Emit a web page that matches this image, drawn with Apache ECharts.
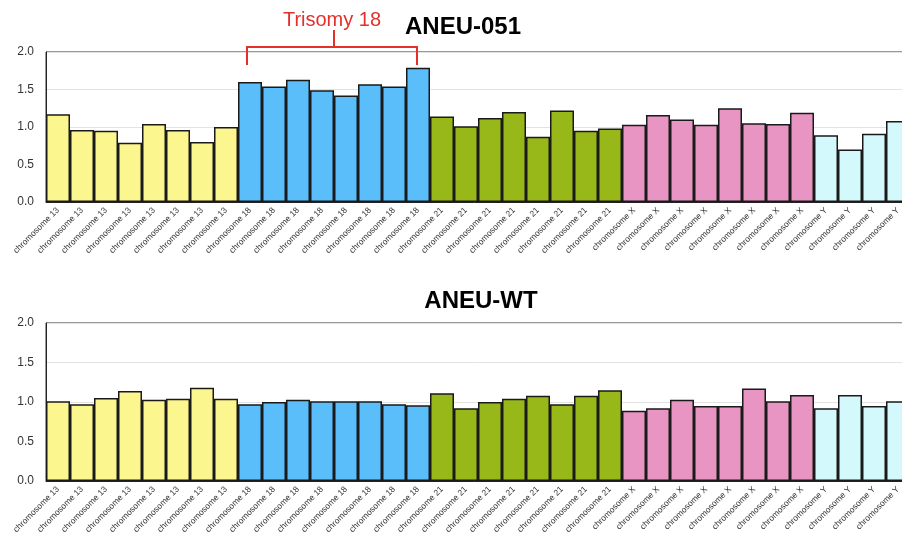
<!DOCTYPE html>
<html>
<head>
<meta charset="utf-8">
<script src="https://cdn.jsdelivr.net/npm/echarts@6/dist/echarts.min.js"></script>
<style>
  html, body { margin: 0; padding: 0; background: #fff; }
  #main { width: 902px; height: 538px; }
</style>
</head>
<body>
<div id="main"></div>
<script>
var chromosomes = ['13', '18', '21', 'X', 'Y'];
var chrCounts = [8, 8, 8, 8, 4];
var chrColors = ['#fcf68e', '#59befa', '#98b718', '#e895c3', '#d4f9fc'];

var aneu051 = [
  1.17, 0.96, 0.95, 0.79, 1.04, 0.96, 0.80, 1.00,
  1.60, 1.54, 1.63, 1.49, 1.42, 1.57, 1.54, 1.79,
  1.14, 1.01, 1.12, 1.20, 0.87, 1.22, 0.95, 0.98,
  1.03, 1.16, 1.10, 1.03, 1.25, 1.05, 1.04, 1.19,
  0.89, 0.70, 0.91, 1.08
];
var aneuWT = [
  1.01, 0.97, 1.05, 1.14, 1.03, 1.04, 1.18, 1.04,
  0.97, 1.00, 1.03, 1.01, 1.01, 1.01, 0.97, 0.96,
  1.11, 0.92, 1.00, 1.04, 1.08, 0.97, 1.08, 1.15,
  0.89, 0.92, 1.03, 0.95, 0.95, 1.17, 1.01, 1.09,
  0.92, 1.09, 0.95, 1.01
];
var yTicks = [0, 0.5, 1.0, 1.5, 2.0];

// category labels + colour per bar
var categories = [];
var barColors = [];
chromosomes.forEach(function (c, i) {
  for (var k = 0; k < chrCounts[i]; k++) {
    categories.push('chromosome ' + c);
    barColors.push(chrColors[i]);
  }
});

var chart = echarts.init(document.getElementById('main'), null, { renderer: 'canvas' });

function makeX(gridIndex) {
  return {
    type: 'category',
    gridIndex: gridIndex,
    data: categories,
    axisLine: { lineStyle: { color: '#222', width: 1 } },
    axisTick: { show: false },
    axisLabel: {
      interval: 0,
      rotate: 45,
      fontSize: 8.5,
      color: '#333',
      margin: 7,
      fontFamily: 'Liberation Sans'
    }
  };
}

function makeY(gridIndex) {
  return {
    type: 'value',
    gridIndex: gridIndex,
    min: yTicks[0],
    max: yTicks[yTicks.length - 1],
    interval: 0.5,
    axisLine: { show: true, lineStyle: { color: '#222', width: 1 } },
    axisTick: { show: false },
    axisLabel: {
      fontSize: 12,
      color: '#333',
      margin: 12,
      fontFamily: 'Liberation Sans',
      formatter: function (v) { return v.toFixed(1); }
    },
    splitLine: { show: true, lineStyle: { color: '#e2e2e2', width: 1 } }
  };
}

function makeBars(idx, values) {
  return {
    type: 'bar',
    xAxisIndex: idx,
    yAxisIndex: idx,
    barCategoryGap: '0%',
    data: values.map(function (v, i) {
      return { value: v, itemStyle: { color: barColors[i] } };
    }),
    itemStyle: { borderColor: '#1a1a1a', borderWidth: 1.5 },
    silent: true
  };
}

// plot runs past the right edge of the picture (last bar is cut off)
var gridBase = { left: 46, width: 864, outerBoundsMode: 'none', containLabel: false,
  show: true, borderColor: '#333', borderWidth: 1 };

var option = {
  animation: false,
  backgroundColor: '#fff',
  title: [
    {
      text: 'ANEU-051', left: 458, top: 10, textAlign: 'center',
      textStyle: { fontSize: 24, fontWeight: 'bold', color: '#000', fontFamily: 'Liberation Sans' }
    },
    {
      text: 'ANEU-WT', left: 476, top: 284, textAlign: 'center',
      textStyle: { fontSize: 24, fontWeight: 'bold', color: '#000', fontFamily: 'Liberation Sans' }
    }
  ],
  grid: [
    Object.assign({ top: 52, height: 150 }, gridBase),
    Object.assign({ top: 323, height: 158 }, gridBase)
  ],
  xAxis: [makeX(0), makeX(1)],
  yAxis: [makeY(0), makeY(1)],
  series: [makeBars(0, aneu051), makeBars(1, aneuWT)]
};

chart.setOption(option);

// "Trisomy 18" bracket over the chromosome 18 bars
var first18 = chrCounts[0];
var last18 = chrCounts[0] + chrCounts[1] - 1;
var xa = chart.convertToPixel({ gridIndex: 0 }, [first18, 0])[0];
var xb = chart.convertToPixel({ gridIndex: 0 }, [last18, 0])[0];
var xm = (xa + xb) / 2;
var red = '#e3302b';

chart.setOption({
  graphic: [
    {
      type: 'polyline',
      shape: { points: [[xa - 3, 65], [xa - 3, 47], [xb - 1, 47], [xb - 1, 65]] },
      style: { stroke: red, lineWidth: 2, fill: null }
    },
    {
      type: 'line',
      shape: { x1: xm, y1: 30, x2: xm, y2: 47 },
      style: { stroke: red, lineWidth: 2 }
    },
    {
      type: 'text',
      x: xm - 2, y: 20,
      style: {
        text: 'Trisomy 18', fill: red, fontSize: 20,
        fontFamily: 'Liberation Sans', align: 'center', verticalAlign: 'middle'
      }
    }
  ]
});

window.addEventListener('resize', chart.resize);
</script>
</body>
</html>
